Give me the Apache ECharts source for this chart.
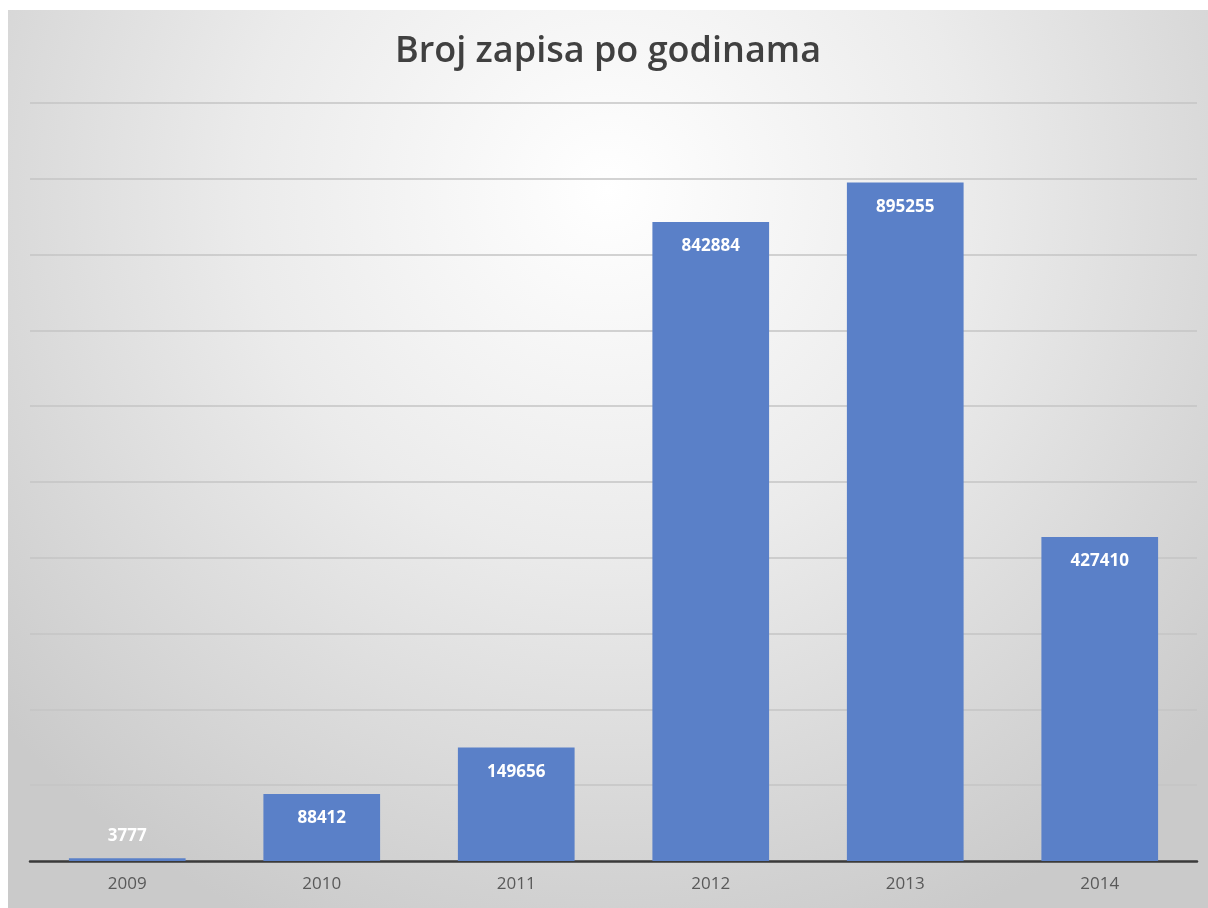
<!DOCTYPE html>
<html>
<head>
<meta charset="utf-8">
<script src="https://cdn.jsdelivr.net/npm/echarts@6/dist/echarts.min.js"></script>
<style>
html,body{margin:0;padding:0;background:#fff;width:1208px;height:908px;overflow:hidden;}
#chart{position:absolute;left:8px;top:10px;width:1200px;height:898px;}
</style>
</head>
<body>
<div id="chart"></div>
<script>
const titleText = 'Broj zapisa po godinama';
const categories = ['2009', '2010', '2011', '2012', '2013', '2014'];
const values = [3777, 88412, 149656, 842884, 895255, 427410];

const chart = echarts.init(document.getElementById('chart'), null, {renderer: 'canvas'});
const data = values.map(function (v, i) {
  if (i === 0) {
    return {value: v, label: {position: 'top', distance: 13}};
  }
  return v;
});
chart.setOption({
  backgroundColor: {
    type: 'radial', x: 0.5, y: 0.2, r: 0.9,
    colorStops: [
      {offset: 0, color: '#ffffff'},
      {offset: 0.45, color: '#ebebeb'},
      {offset: 1, color: '#cacaca'}
    ]
  },
  animation: false,
  title: {
    text: titleText,
    left: 'center',
    top: 19,
    textStyle: {fontFamily: 'Open Sans', fontWeight: 600, fontSize: 36, color: '#404040'}
  },
  grid: {left: 22, right: 11, top: 93, bottom: 47, containLabel: false},
  xAxis: {
    type: 'category',
    data: categories,
    axisLine: {show: true, lineStyle: {color: '#3a3a3a', width: 2.5}},
    axisTick: {show: false},
    axisLabel: {color: '#595959', fontSize: 17, fontFamily: 'Open Sans', margin: 15}
  },
  yAxis: {
    type: 'value',
    min: 0, max: 1000000, interval: 100000,
    axisLine: {show: false},
    axisTick: {show: false},
    axisLabel: {show: false},
    splitLine: {lineStyle: {color: '#c4c4c4', width: 1.5}}
  },
  series: [{
    type: 'bar',
    data: data,
    barWidth: '60%',
    itemStyle: {color: '#5a80c8'},
    label: {
      show: true,
      position: 'insideTop',
      distance: 16,
      color: '#ffffff',
      fontWeight: 'bold',
      fontSize: 17,
      fontFamily: 'Open Sans'
    }
  }]
});
</script>
</body>
</html>
